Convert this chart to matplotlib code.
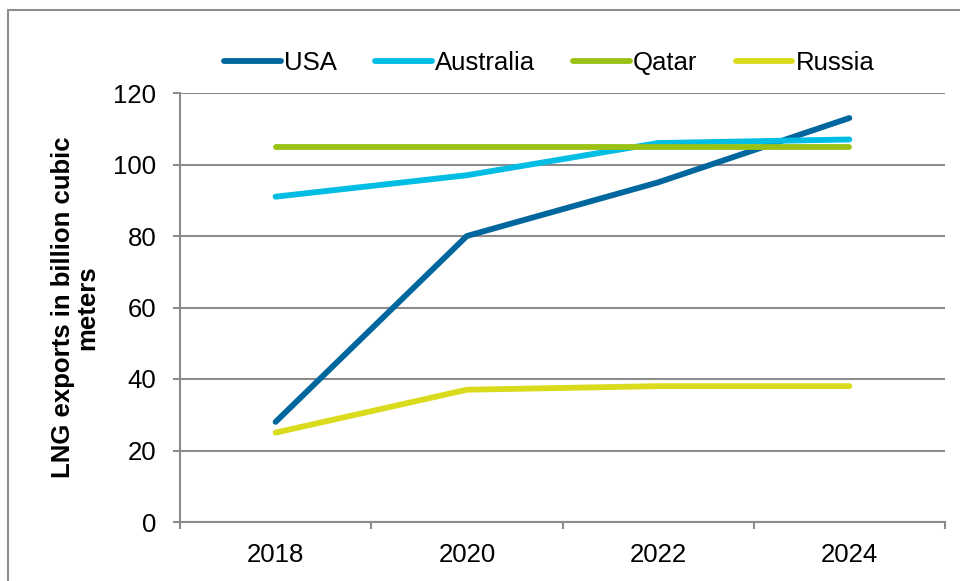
import matplotlib.pyplot as plt
from matplotlib.patches import Rectangle

# data
years = ['2018', '2020', '2022', '2024']
usa = [28, 80, 95, 113]
australia = [91, 97, 106, 107]
qatar = [105, 105, 105, 105]
russia = [25, 37, 38, 38]

plt.rcParams['font.family'] = ['Liberation Sans', 'DejaVu Sans']
grey = '#8c8c8c'

fig = plt.figure(figsize=(9.6, 5.81), dpi=100)
ax = fig.add_axes([180/960, 1-522/581, (945-180)/960, (522-93)/581])

x = range(len(years))
lw = 4.2
ax.plot(x, usa, color='#00679e', lw=lw, solid_capstyle='round', label='USA')
ax.plot(x, australia, color='#00bde3', lw=lw, solid_capstyle='round', label='Australia')
ax.plot(x, qatar, color='#99c214', lw=lw, solid_capstyle='round', label='Qatar')
ax.plot(x, russia, color='#dbdb1e', lw=lw, solid_capstyle='round', label='Russia')

ax.set_xlim(-0.5, 3.5)
ax.set_ylim(0, 120)
ax.set_yticks(range(0, 121, 20))
ax.set_xticks(list(x))
ax.set_xticklabels(years)
ax.set_xticks([-0.5, 0.5, 1.5, 2.5, 3.5], minor=True)
ax.tick_params(axis='x', which='major', length=0, labelsize=18.5, pad=15)
ax.tick_params(axis='x', which='minor', length=5, width=1.5, color=grey)
ax.tick_params(axis='y', length=5, width=1.5, color=grey, labelsize=18.5, pad=12)
ax.yaxis.grid(True, color=grey, lw=1.5)
ax.set_axisbelow(True)
for s in ['top', 'right']:
    ax.spines[s].set_visible(False)
for s in ['left', 'bottom']:
    ax.spines[s].set_color(grey)
    ax.spines[s].set_linewidth(1.5)

ax.set_ylabel('LNG exports in billion cubic\nmeters', fontsize=18.5, fontweight='bold',
              linespacing=1.0, labelpad=10)

fig.legend(loc='center', bbox_to_anchor=(0.572, 1-63/581), ncol=4, frameon=False,
           fontsize=18.5, handlelength=2.2, handletextpad=0.12, columnspacing=1.5)

# outer frame
fig.patches.append(Rectangle((8/960, -0.2), 1.2, 1.2 - 10/581, transform=fig.transFigure,
                             fill=False, edgecolor=grey, lw=1.5))

fig.savefig('out.png', dpi=100)
